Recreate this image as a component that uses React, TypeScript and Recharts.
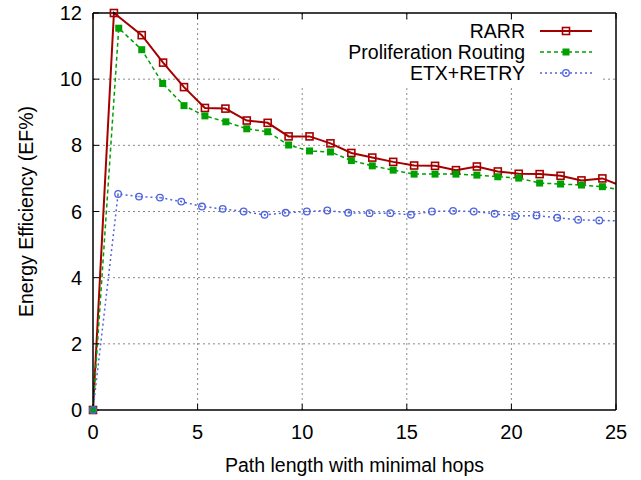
import React from 'react';
import { ComposedChart, Line, Scatter, XAxis, YAxis, Legend } from 'recharts';

const xTicks = [0, 5, 10, 15, 20, 25];
const yTicks = [0, 2, 4, 6, 8, 10, 12];

const seriesNames = ['RARR', 'Proliferation Routing', 'ETX+RETRY'];

// Last entry of each series is where the line meets the right border (x = 25).
const rarrX = [0, 1.0, 2.33, 3.35, 4.35, 5.35, 6.33, 7.35, 8.35, 9.35, 10.35, 11.35, 12.35, 13.35, 14.35, 15.35, 16.35, 17.35, 18.35, 19.35, 20.35, 21.35, 22.35, 23.35, 24.35, 25];
const rarrY = [0, 12.0, 11.33, 10.5, 9.76, 9.13, 9.11, 8.75, 8.68, 8.27, 8.27, 8.06, 7.77, 7.63, 7.5, 7.39, 7.38, 7.25, 7.36, 7.21, 7.14, 7.13, 7.08, 6.94, 7.0, 6.84];

const propX = [0, 1.23, 2.33, 3.33, 4.35, 5.35, 6.35, 7.35, 8.35, 9.35, 10.35, 11.35, 12.35, 13.35, 14.35, 15.35, 16.35, 17.35, 18.35, 19.35, 20.35, 21.35, 22.35, 23.35, 24.35, 25];
const propY = [0, 11.54, 10.89, 9.87, 9.2, 8.89, 8.71, 8.5, 8.41, 8.01, 7.83, 7.8, 7.54, 7.38, 7.25, 7.13, 7.13, 7.13, 7.1, 7.05, 7.01, 6.86, 6.83, 6.8, 6.75, 6.68];

const etxX = [0, 1.2, 2.2, 3.2, 4.22, 5.21, 6.2, 7.2, 8.2, 9.21, 10.22, 11.2, 12.2, 13.22, 14.21, 15.2, 16.2, 17.21, 18.2, 19.2, 20.19, 21.2, 22.19, 23.19, 24.2, 25];
const etxY = [0, 6.53, 6.45, 6.42, 6.3, 6.15, 6.08, 6.0, 5.9, 5.96, 6.0, 6.03, 5.96, 5.95, 5.95, 5.9, 6.0, 6.02, 6.0, 5.93, 5.86, 5.88, 5.81, 5.75, 5.73, 5.72];

const X_MIN = 0;
const X_MAX = 25;
const Y_MIN = 0;
const Y_MAX = 12;

const toPoints = (xs: number[], ys: number[]) => xs.map((x, i) => ({ x, y: ys[i] }));
const rarrData = toPoints(rarrX, rarrY);
const propData = toPoints(propX, propY);
const etxData = toPoints(etxX, etxY);
// markers only for measured points (not for the border crossing)
const markerPoints = (d: { x: number; y: number }[]) => d.filter((p) => p.x < X_MAX);

// grid lines built from the tick lists, drawn through the axis scales
const vGrid = xTicks.slice(1, -1).map((v) => [{ x: v, y: Y_MIN }, { x: v, y: Y_MAX }]);
const hGrid = yTicks.slice(1, -1).map((v) => [{ x: X_MIN, y: v }, { x: X_MAX, y: v }]);

const RED = '#a50000';
const GREEN = '#00a000';
const BLUE = '#5064dc';
const GRID = '#8a8a8a';
const FONT = '"Liberation Sans", Arial, Helvetica, sans-serif';

const SquareOpen = (cx: number, cy: number) => (
  <rect x={cx - 3.5} y={cy - 3.5} width={7} height={7} fill="none" stroke={RED} strokeWidth={1.6} />
);
const SquareFilled = (cx: number, cy: number) => (
  <rect x={cx - 3.5} y={cy - 3.5} width={7} height={7} fill={GREEN} stroke="none" />
);
const CircleOpen = (cx: number, cy: number) => (
  <g>
    <circle cx={cx} cy={cy} r={3.3} fill="none" stroke={BLUE} strokeWidth={1.3} />
    <circle cx={cx} cy={cy} r={0.8} fill={BLUE} />
  </g>
);

const markers = [SquareOpen, SquareFilled, CircleOpen];
const lineStyles = [
  { stroke: RED, strokeWidth: 2, dash: undefined as string | undefined },
  { stroke: GREEN, strokeWidth: 1.5, dash: '4 3' },
  { stroke: BLUE, strokeWidth: 1.5, dash: '2 3' },
];

const LegendBox = () => (
  <svg width={641} height={100} style={{ display: 'block', fontFamily: FONT }}>
    <rect x={279} y={20} width={324} height={66} fill="#fff" />
    {seriesNames.map((name, i) => {
      const cy = 31 + i * 21;
      const ls = lineStyles[i];
      return (
        <g key={name}>
          <text x={525} y={cy + 7} textAnchor="end" fontSize={19.5} fill="#000">
            {name}
          </text>
          <line x1={540} x2={592} y1={cy} y2={cy} stroke={ls.stroke} strokeWidth={ls.strokeWidth} strokeDasharray={ls.dash} />
          {markers[i](566, cy)}
        </g>
      );
    })}
  </svg>
);

export default function App() {
  return (
    <div style={{ position: 'absolute', left: 0, top: 0, width: 641, height: 480, background: '#fff' }}>
      <ComposedChart width={641} height={480} margin={{ top: 13, right: 25, bottom: 0, left: 0 }} style={{ fontFamily: FONT }}>
        <XAxis
          xAxisId="bottom"
          type="number"
          dataKey="x"
          domain={[X_MIN, X_MAX]}
          allowDataOverflow
          ticks={xTicks}
          height={70}
          tickSize={-6}
          tickMargin={21}
          tick={{ fill: '#000', fontSize: 20 }}
          axisLine={{ stroke: '#000', strokeWidth: 1.5 }}
          tickLine={{ stroke: '#000', strokeWidth: 1 }}
          label={{ value: 'Path length with minimal hops', position: 'insideBottom', offset: 8, fill: '#000', fontSize: 19.5 }}
        />
        <XAxis
          xAxisId="top"
          orientation="top"
          mirror
          type="number"
          dataKey="x"
          domain={[X_MIN, X_MAX]}
          ticks={xTicks}
          tickSize={6}
          tickFormatter={() => ''}
          axisLine={{ stroke: '#000', strokeWidth: 1.5 }}
          tickLine={{ stroke: '#000', strokeWidth: 1 }}
        />
        <YAxis
          yAxisId={0}
          type="number"
          dataKey="y"
          domain={[Y_MIN, Y_MAX]}
          ticks={yTicks}
          width={93}
          tickSize={-6}
          tickMargin={17}
          tick={{ fill: '#000', fontSize: 20 }}
          axisLine={{ stroke: '#000', strokeWidth: 1.5 }}
          tickLine={{ stroke: '#000', strokeWidth: 1 }}
          label={{ value: 'Energy Efficiency (EF%)', angle: -90, position: 'insideLeft', offset: 26, fill: '#000', fontSize: 19.5, style: { textAnchor: 'middle' } }}
        />
        <YAxis
          yAxisId="right"
          orientation="right"
          mirror
          type="number"
          domain={[Y_MIN, Y_MAX]}
          ticks={yTicks}
          tickSize={6}
          tickFormatter={() => ''}
          axisLine={{ stroke: '#000', strokeWidth: 1.5 }}
          tickLine={{ stroke: '#000', strokeWidth: 1 }}
        />
        {vGrid.map((d, i) => (
          <Line key={'gv' + i} xAxisId="bottom" yAxisId={0} data={d} dataKey="y" type="linear" stroke={GRID} strokeWidth={1} strokeDasharray="2 3" dot={false} activeDot={false} legendType="none" isAnimationActive={false} />
        ))}
        {hGrid.map((d, i) => (
          <Line key={'gh' + i} xAxisId="bottom" yAxisId={0} data={d} dataKey="y" type="linear" stroke={GRID} strokeWidth={1} strokeDasharray="2 3" dot={false} activeDot={false} legendType="none" isAnimationActive={false} />
        ))}
        <Line xAxisId="bottom" yAxisId={0} data={rarrData} dataKey="y" name={seriesNames[0]} type="linear" stroke={RED} strokeWidth={2} dot={false} activeDot={false} isAnimationActive={false} />
        <Line xAxisId="bottom" yAxisId={0} data={propData} dataKey="y" name={seriesNames[1]} type="linear" stroke={GREEN} strokeWidth={1.5} strokeDasharray="4 3" dot={false} activeDot={false} isAnimationActive={false} />
        <Line xAxisId="bottom" yAxisId={0} data={etxData} dataKey="y" name={seriesNames[2]} type="linear" stroke={BLUE} strokeWidth={1.5} strokeDasharray="2 3" dot={false} activeDot={false} isAnimationActive={false} />
        <Scatter xAxisId="top" yAxisId={0} data={markerPoints(rarrData)} dataKey="y" isAnimationActive={false} shape={(p: any) => SquareOpen(p.cx, p.cy)} />
        <Scatter xAxisId="top" yAxisId={0} data={markerPoints(propData)} dataKey="y" isAnimationActive={false} shape={(p: any) => SquareFilled(p.cx, p.cy)} />
        <Scatter xAxisId="top" yAxisId={0} data={markerPoints(etxData)} dataKey="y" isAnimationActive={false} shape={(p: any) => CircleOpen(p.cx, p.cy)} />
        <Legend
          layout="vertical"
          align="center"
          verticalAlign="middle"
          content={() => <LegendBox />}
          wrapperStyle={{ position: 'absolute', left: 0, top: 0, width: 641, height: 100, margin: 0, padding: 0 }}
        />
      </ComposedChart>
    </div>
  );
}
